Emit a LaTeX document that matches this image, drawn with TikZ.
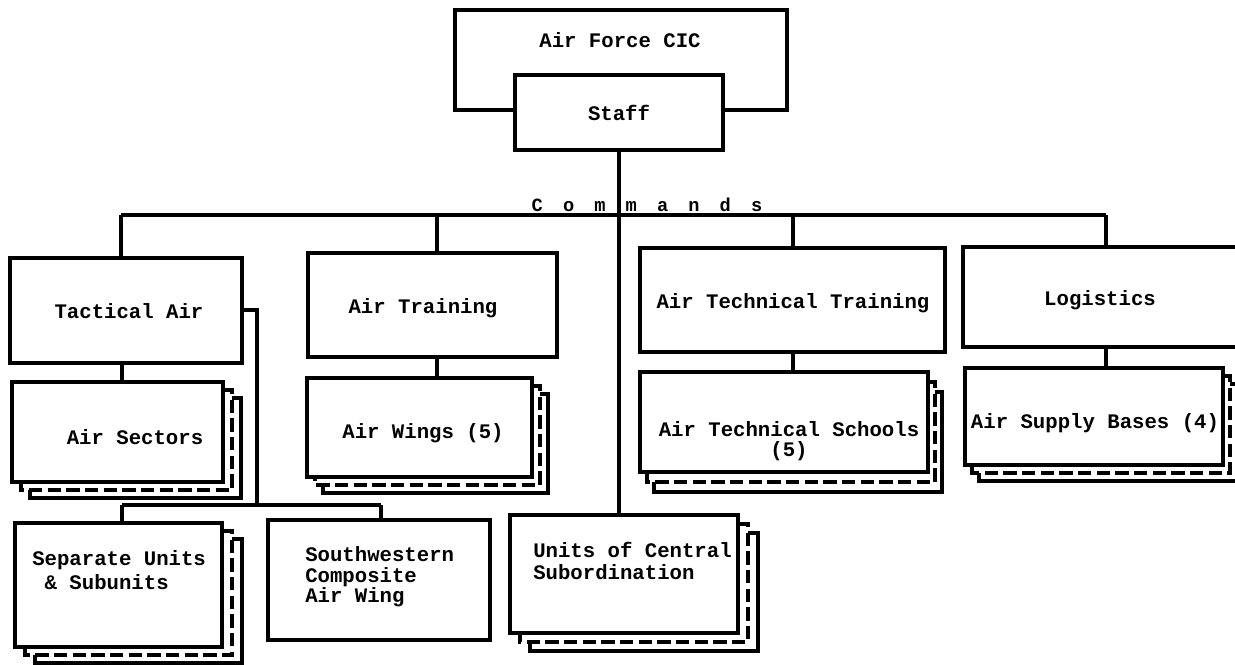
\documentclass[tikz,border=0pt]{standalone}
\usepackage{fontspec}
\newfontfamily\tw{Liberation Mono}
\usetikzlibrary{fit,calc}
\newcommand\spl[1]{\makebox[23.5pt]{#1}}
\newcommand\stk[3]{%
  \draw[stackline,dash pattern=on 10pt off 4pt] ($(#1.north east)+(0,#3)$) -- ++(#2,0) -- ($(#1.south east)+(#2,#3)$) -- ($(#1.south west)+(#2,#3)$) -- ++(0,-#3);
  \draw[stackline] ($(#1.north east)+(#2,2*#3)$) -- ++(#2,0) -- ($(#1.south east)+(2*#2,2*#3)$) -- ($(#1.south west)+(2*#2,2*#3)$) -- ++(0,-#3);
}
\tikzset{
  box/.style={draw, line width=3.2pt, fill=white, inner sep=0pt, outer sep=0pt, rectangle},
  conn/.style={line width=2.8pt},
  stackline/.style={line width=2.3pt},
  lbl/.style={font=\tw\bfseries\fontsize{15.5}{18}\selectfont, inner sep=0pt},
  lbll/.style={lbl, align=left, anchor=west},
  cmd/.style={font=\tw\bfseries\fontsize{14}{16}\selectfont, inner sep=0pt},
}
\begin{document}
\begin{tikzpicture}[x=0.75pt,y=-0.75pt]
\clip (0,0) rectangle (1235,664);
\fill[white] (0,0) rectangle (1235,664);
% top
\node[box, fit={(455,10) (787,110)}] (cic) {};
\node[box, fit={(515,75) (723,150)}] (staff) {};
% command boxes
\node[box, fit={(10,258) (242,363)}] (ta) {};
\node[box, fit={(308,253) (557,357)}] (atr) {};
\node[box, fit={(640,248) (945,352)}] (att) {};
\node[box, fit={(963,247) (1250,347)}] (lg) {};
% subordinate boxes
\node[box, fit={(12,382) (223,482)}] (as) {};
\node[box, fit={(307,378) (532,477)}] (aw) {};
\node[box, fit={(640,372) (928,472)}] (ats) {};
\node[box, fit={(965,368) (1223,465)}] (asb) {};
\node[box, fit={(15,523) (222,647)}] (su) {};
\node[box, fit={(268,520) (490,640)}] (sw) {};
\node[box, fit={(510,515) (738,633)}] (ucs) {};
% stacks
\stk{as}{9}{8}
\stk{aw}{8}{8}
\stk{ats}{7}{10}
\stk{asb}{7}{8}
\stk{su}{10}{8}
\stk{ucs}{10}{9}
% bus coordinates
\coordinate (bus1) at (121,215);
\coordinate (bus2) at (437,215);
\coordinate (bus3) at (793,215);
\coordinate (bus4) at (1106,215);
\coordinate (tae) at (257,310);
\coordinate (sb1) at (122,505);
\coordinate (sb2) at (381,505);
\coordinate (sb0) at (257,505);
% connectors
\draw[conn] (staff.south) -- (staff.south |- ucs.north);
\draw[conn] (bus1) -- (bus4);
\draw[conn] (bus1) -- (bus1 |- ta.north);
\draw[conn] (bus2) -- (bus2 |- atr.north);
\draw[conn] (bus3) -- (bus3 |- att.north);
\draw[conn] (bus4) -- (bus4 |- lg.north);
\draw[conn] (ta.south -| sb1) -- (as.north -| sb1);
\draw[conn] (atr.south -| bus2) -- (aw.north -| bus2);
\draw[conn] (att.south -| bus3) -- (ats.north -| bus3);
\draw[conn] (lg.south -| bus4) -- (asb.north -| bus4);
\draw[conn] (ta.east |- tae) -- (tae) -- (sb0);
\draw[conn] (sb1) -- (sb2);
\draw[conn] (sb1) -- (su.north -| sb1);
\draw[conn] (sb2) -- (sw.north -| sb2);
% labels
\node[lbl] (tcic) at (620,40) {Air Force CIC};
\node[lbl] (tstaff) at (619,113) {Staff};
\node[cmd] (tcmd) at (647,205) {\spl{C}\spl{o}\spl{m}\spl{m}\spl{a}\spl{n}\spl{d}\spl{s}};
\node[lbl] (tta) at (129,311) {Tactical Air};
\node[lbl] (tatr) at (423,308) {Air Training};
\node[lbl] (tatt) at (793,303) {Air Technical Training};
\node[lbl] (tlg) at (1100,300) {Logistics};
\node[lbl] (tas) at (135,437) {Air Sectors};
\node[lbl] (taw) at (423,433) {Air Wings (5)};
\node[lbl] (tats) at (789,429) {Air Technical Schools};
\node[lbl] (tats5) at (789,451) {(5)};
\node[lbl] (tasb) at (1095,423) {Air Supply Bases (4)};
\node[lbll, font=\tw\bfseries\fontsize{15.5}{18}\selectfont] (tsu) at (32,570) {Separate Units\\\phantom{S}\& Subunits};
\node[lbll, font=\tw\bfseries\fontsize{15.5}{15.5}\selectfont] (tsw) at (305,577) {Southwestern\\Composite\\Air Wing};
\node[lbll, font=\tw\bfseries\fontsize{15.5}{16.5}\selectfont] (tucs) at (533,561) {Units of Central\\Subordination};
\end{tikzpicture}
\end{document}
